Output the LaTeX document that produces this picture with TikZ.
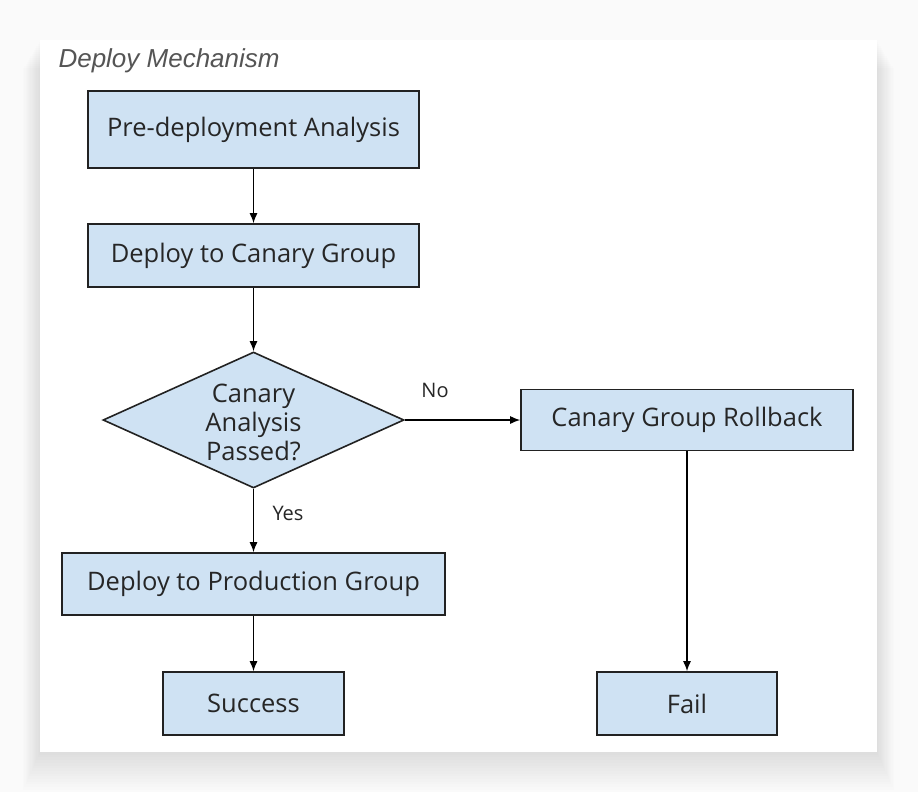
\documentclass[tikz,border=0pt]{standalone}
\usepackage{fontspec}
\setmainfont{Open Sans}
\newfontfamily\titlefont{Liberation Sans}
\usetikzlibrary{arrows.meta,shapes.geometric}
\definecolor{boxfill}{HTML}{CFE2F3}
\definecolor{boxline}{HTML}{222222}
\definecolor{titlegray}{HTML}{555555}
\definecolor{pagebg}{HTML}{FAFAFA}
\tikzset{
  stepbox/.style={draw=boxline, fill=boxfill, line width=1.6pt, rectangle, inner sep=0pt, font=\fontsize{25.5}{29}\selectfont, text=black!85},
  decision/.style={draw=boxline, fill=boxfill, line width=1.6pt, diamond, inner sep=0pt},
  flow/.style={draw=black, line width=1.3pt, -{Latex[length=10pt,width=8pt]}},
  edgelabel/.style={font=\fontsize{20}{24}\selectfont, text=black!85}
}
\begin{document}
\begin{tikzpicture}[x=1pt,y=-1pt]
\useasboundingbox (0,0) rectangle (918,792);
\fill[pagebg] (0,0) rectangle (918,792);
% shadow
\foreach \i in {1,...,14}{
  \fill[black, opacity=0.006] (40-1.2*\i,40+2*\i) rectangle (877+1.2*\i,752+2.7*\i);
}
\fill[white] (40,40) rectangle (877,752);
\node[anchor=west, font=\titlefont\itshape\fontsize{26}{30}\selectfont, text=titlegray] (title) at (55,61) {Deploy Mechanism};

\node[stepbox, minimum width=331pt, minimum height=77pt] (pre) at (253.5,129.5) {\raisebox{-2pt}{Pre-deployment Analysis}};
\node[stepbox, minimum width=331pt, minimum height=63pt] (canary) at (253.5,255.5) {\raisebox{-2pt}{Deploy to Canary Group}};
\node[decision, minimum width=301pt, minimum height=136pt, aspect=2.2] (dec) at (253.5,420) {};
\node[font=\fontsize{25.5}{29}\selectfont, align=center, text=black!85] (dectext) at (253.5,422) {Canary\\Analysis\\Passed?};
\node[stepbox, minimum width=332pt, minimum height=61pt] (roll) at (687,420) {\raisebox{-2pt}{Canary Group Rollback}};
\node[stepbox, minimum width=383pt, minimum height=62pt] (prod) at (253.5,584) {\raisebox{-2pt}{Deploy to Production Group}};
\node[stepbox, minimum width=181pt, minimum height=63pt] (succ) at (253.5,703.5) {\raisebox{-2pt}{Success}};
\node[stepbox, minimum width=180pt, minimum height=63pt] (fail) at (687,703.5) {\raisebox{-2pt}{Fail}};

\draw[flow] (pre) -- (canary);
\draw[flow] (canary) -- (dec);
\draw[flow] (dec.east) -- (dec.east -| roll.west);
\draw[flow] (dec.south) -- (prod.north);
\draw[flow] (prod) -- (succ);
\draw[flow] (roll) -- (fail);

\node[edgelabel] (nolab) at (435,390) {No};
\node[edgelabel] (yeslab) at (288,513) {Yes};
\end{tikzpicture}
\end{document}
